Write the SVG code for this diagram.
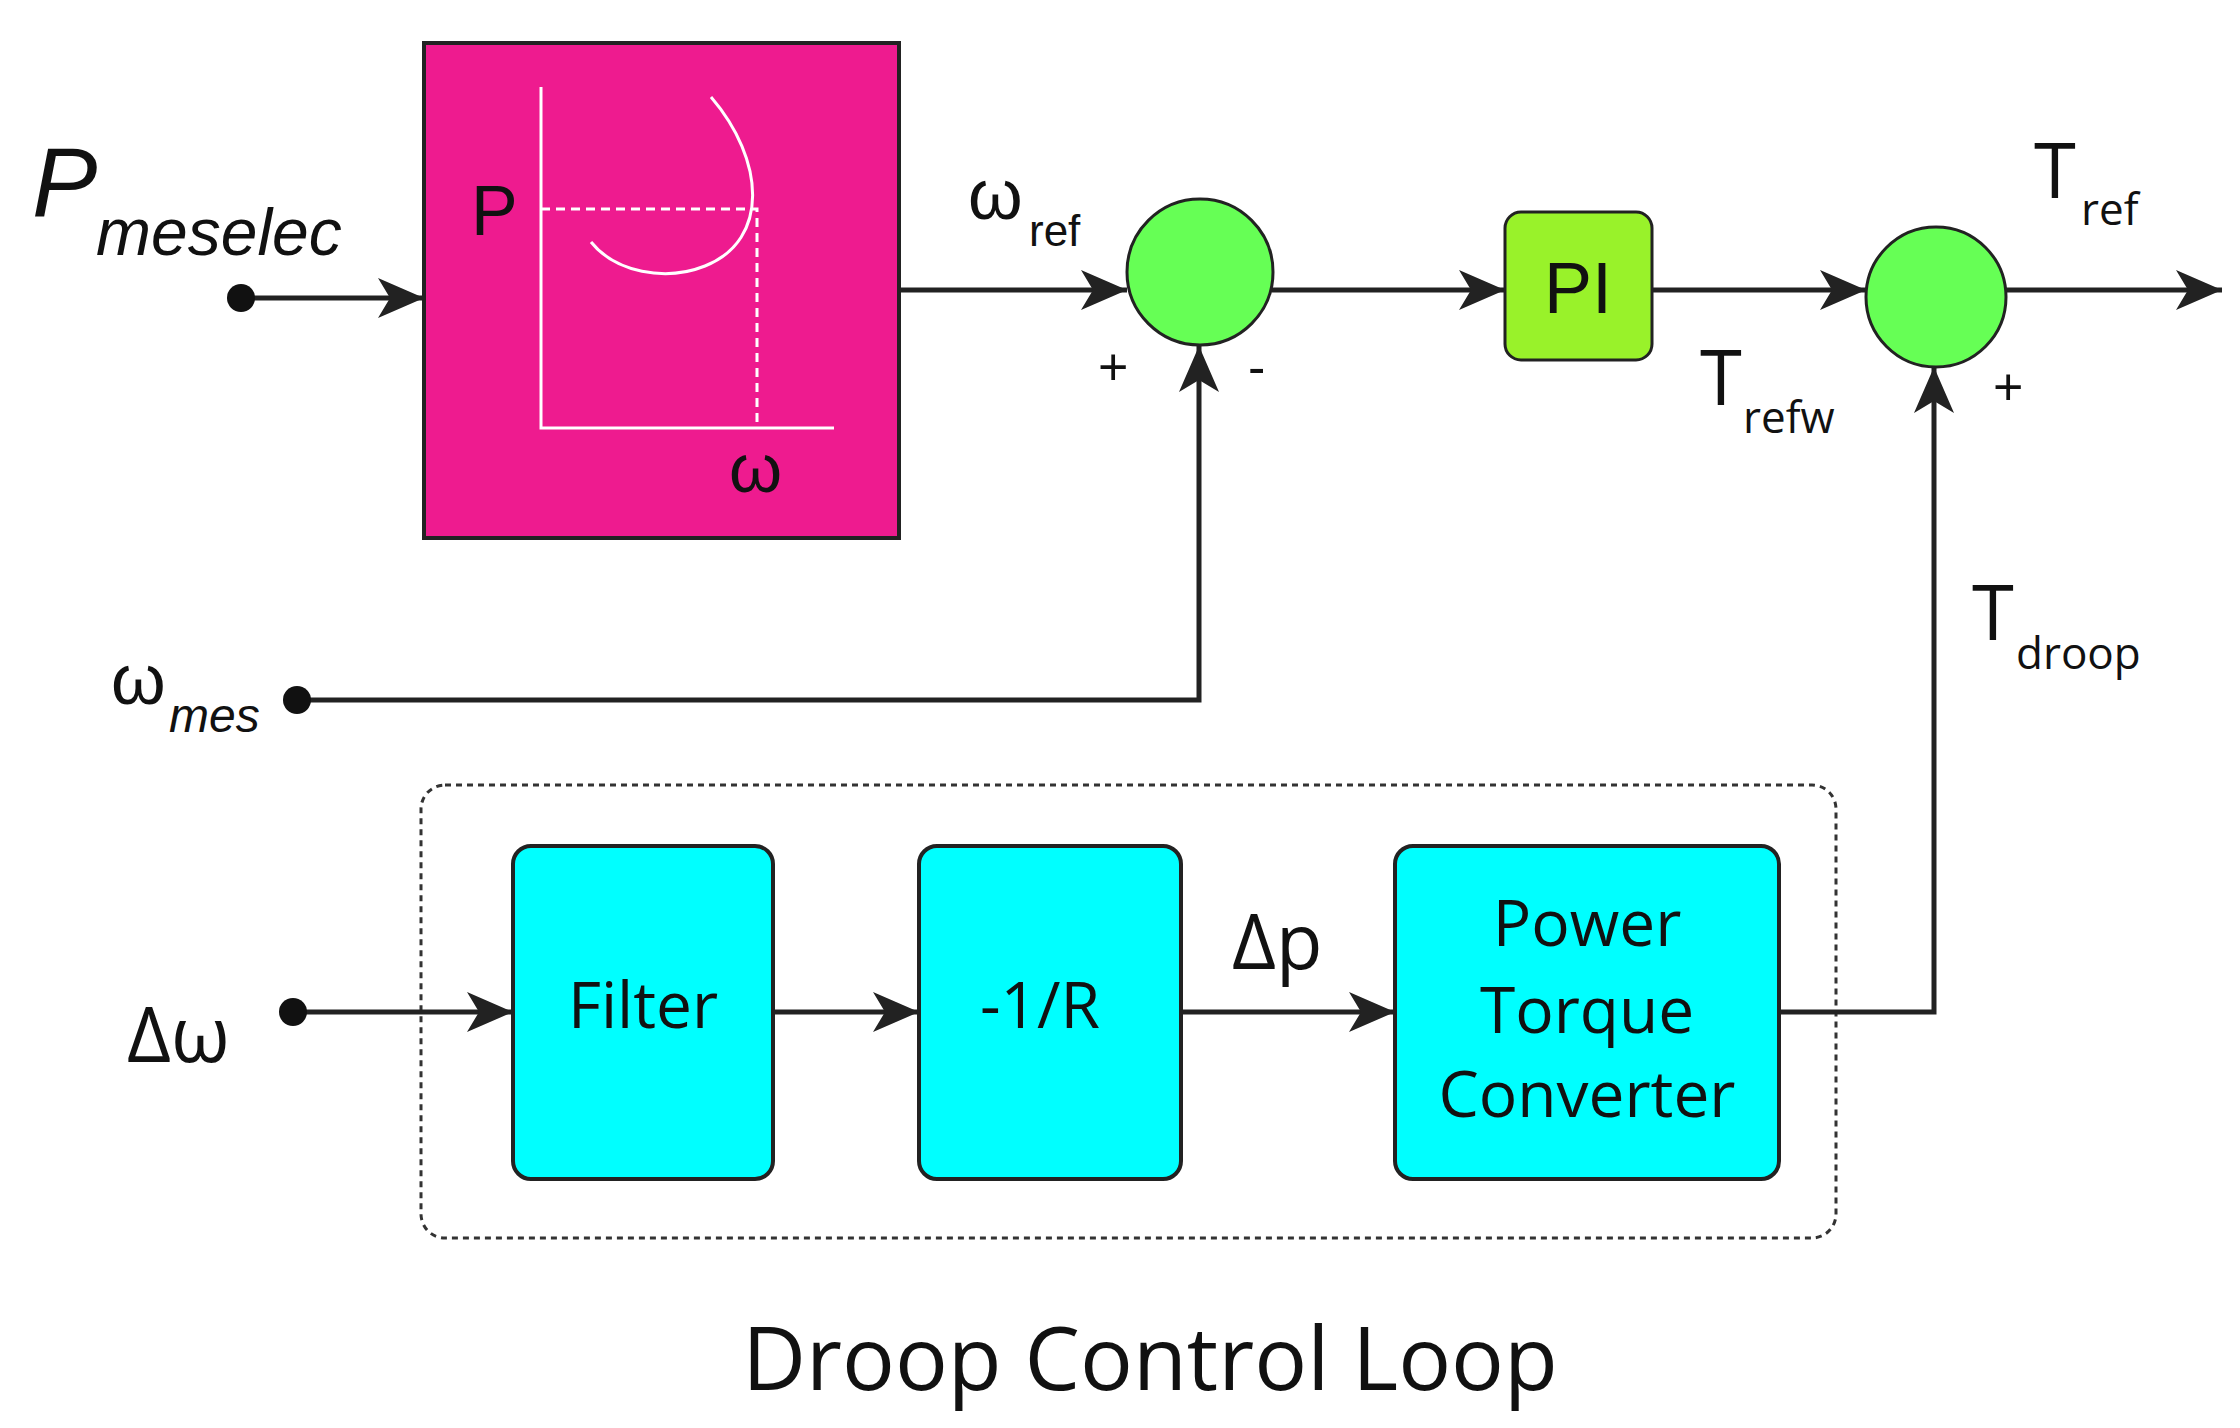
<svg xmlns="http://www.w3.org/2000/svg" width="2240" height="1428" viewBox="0 0 2240 1428">
<defs>
<marker id="ah" markerUnits="userSpaceOnUse" markerWidth="50" markerHeight="50" viewBox="0 0 50 50" refX="46" refY="25" orient="auto">
<path d="M0,5 L46,25 L0,45 L12,25 Z" fill="#222"/>
</marker>
</defs>
<style>
.ln{stroke:#222;stroke-width:5;fill:none}
.sum{fill:#66ff55;stroke:#222;stroke-width:3}
.cy{fill:#00ffff;stroke:#222;stroke-width:4}
.t{font-family:"Open Sans","Liberation Sans",sans-serif;fill:#111}
.a{font-family:"Liberation Sans",Arial,sans-serif;fill:#111}
.w{stroke:#fff;stroke-width:3;fill:none}
</style>
<rect width="2240" height="1428" fill="#fff"/>

<g id="droop-group">
<rect x="421" y="785" width="1415" height="453" rx="24" fill="none" stroke="#333" stroke-width="3" stroke-dasharray="6,5"/>
</g>

<g id="connectors">
<line class="ln" x1="241" y1="298" x2="424" y2="298" marker-end="url(#ah)"/>
<line class="ln" x1="899" y1="290" x2="1127" y2="290" marker-end="url(#ah)"/>
<polyline class="ln" points="297,700 1199,700 1199,346" marker-end="url(#ah)"/>
<line class="ln" x1="1272" y1="290" x2="1505" y2="290" marker-end="url(#ah)"/>
<line class="ln" x1="1652" y1="290" x2="1866" y2="290" marker-end="url(#ah)"/>
<line class="ln" x1="2006" y1="290" x2="2222" y2="290" marker-end="url(#ah)"/>
<line class="ln" x1="293" y1="1012" x2="513" y2="1012" marker-end="url(#ah)"/>
<line class="ln" x1="773" y1="1012" x2="919" y2="1012" marker-end="url(#ah)"/>
<line class="ln" x1="1181" y1="1012" x2="1395" y2="1012" marker-end="url(#ah)"/>
<polyline class="ln" points="1779,1012 1934,1012 1934,367" marker-end="url(#ah)"/>
<circle cx="241" cy="298" r="14" fill="#111"/>
<circle cx="297" cy="700" r="14" fill="#111"/>
<circle cx="293" cy="1012" r="14" fill="#111"/>
</g>

<g id="droop-curve-block">
<rect x="424" y="43" width="475" height="495" fill="#ee1b8f" stroke="#222" stroke-width="4"/>
<polyline class="w" points="541,87 541,428 834,428"/>
<path class="w" d="M541,209 L757,209 L757,428" stroke-dasharray="9,6"/>
<path class="w" d="M711,97 C765,160 770,240 705,266 C665,282 615,272 591,242"/>
<text class="a" x="471" y="235" font-size="70">P</text>
<text class="a" x="729" y="492" font-size="68">ω</text>
</g>

<g id="sum1"><circle class="sum" cx="1200" cy="272" r="73"/></g>
<g id="pi"><rect x="1505" y="212" width="147" height="148" rx="16" fill="#99f22a" stroke="#222" stroke-width="3"/>
<text class="a" x="1578" y="313" font-size="72" text-anchor="middle">PI</text></g>
<g id="sum2"><circle class="sum" cx="1936" cy="297" r="70"/></g>

<g id="filter"><rect class="cy" x="513" y="846" width="260" height="333" rx="18"/>
<text class="t" x="643" y="1028" font-size="64" text-anchor="middle">Filter</text></g>
<g id="gain"><rect class="cy" x="919" y="846" width="262" height="333" rx="18"/>
<text class="t" x="1040" y="1028" font-size="64" text-anchor="middle">-1/R</text></g>
<g id="ptc"><rect class="cy" x="1395" y="846" width="384" height="333" rx="18"/>
<text class="t" x="1587" y="946" font-size="64" text-anchor="middle">Power</text>
<text class="t" x="1587" y="1033" font-size="64" text-anchor="middle">Torque</text>
<text class="t" x="1587" y="1117" font-size="64" text-anchor="middle">Converter</text></g>

<g id="labels">
<text class="a" x="32" y="216" font-size="98" font-style="italic">P</text>
<text class="a" x="96" y="255" font-size="66" font-style="italic">meselec</text>
<text class="a" x="968" y="219" font-size="70">ω</text>
<text class="a" x="1029" y="246" font-size="44">ref</text>
<text class="a" x="111" y="704" font-size="70">ω</text>
<text class="a" x="169" y="732" font-size="48" font-style="italic">mes</text>
<text class="a" x="1098" y="385" font-size="52">+</text>
<text class="a" x="1248" y="385" font-size="52">-</text>
<text class="a" x="1993" y="405" font-size="52">+</text>
<text class="t" x="2034" y="198" font-size="76">T</text>
<text class="t" x="2081" y="225" font-size="44">ref</text>
<text class="t" x="1700" y="405" font-size="76">T</text>
<text class="t" x="1743" y="433" font-size="44">refw</text>
<text class="t" x="1972" y="640" font-size="76">T</text>
<text class="t" x="2016" y="669" font-size="44">droop</text>
<text class="t" x="127" y="1062" font-size="76">Δω</text>
<text class="t" x="1232" y="969" font-size="76">Δp</text>
<text class="t" x="1150" y="1390" font-size="88" text-anchor="middle">Droop Control Loop</text>
</g>
</svg>
